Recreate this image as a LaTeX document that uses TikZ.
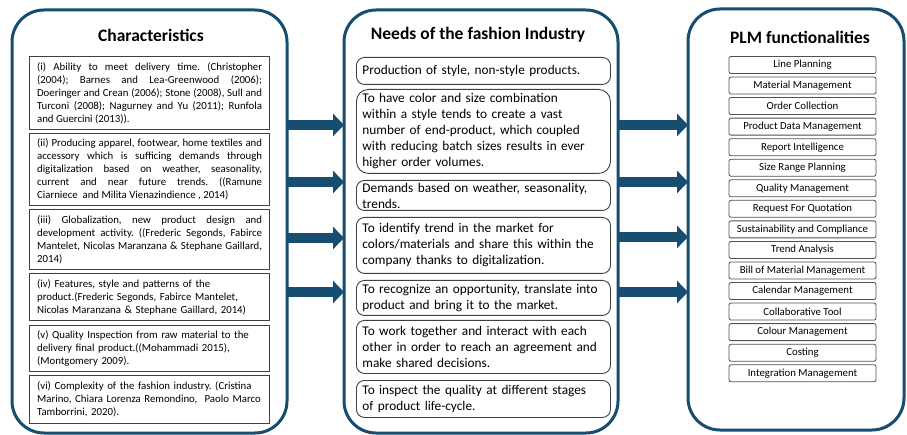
\documentclass[tikz,border=0pt]{standalone}
\usepackage{fontspec}
\setmainfont{Carlito}
\usetikzlibrary{arrows.meta}
\definecolor{pblue}{RGB}{22,77,112}
\definecolor{bgray}{RGB}{64,64,64}
\definecolor{rgray}{RGB}{80,80,80}
\frenchspacing
\begin{document}
\begin{tikzpicture}[x=1pt,y=-1pt,
  panel/.style={draw=pblue, line width=3pt, rounded corners=32pt, outer sep=0pt, inner sep=0pt},
  ptitle/.style={font=\bfseries\fontsize{17.5}{20}\selectfont, inner sep=0pt},
  lbox/.style={draw=bgray, line width=1.2pt, anchor=north west, text width=225pt, inner xsep=7.5pt, inner ysep=1pt, font=\frenchspacing\fontsize{10.8}{13}\selectfont},
  mbox/.style={draw=bgray, line width=0.9pt, rounded corners=8pt, anchor=north west, text width=242pt, inner xsep=6pt, inner ysep=1pt, align=left, font=\frenchspacing\fontsize{13.3}{16}\selectfont},
  rbox/.style={draw=rgray, line width=0.8pt, rounded corners=2pt, minimum width=147pt, minimum height=17pt, inner sep=0pt, font=\fontsize{10.8}{13}\selectfont},
  bigarrow/.style={draw=pblue, line width=10pt, -{Triangle[length=11pt,width=22pt]}}
]
\fill[white] (0,0) rectangle (907,435);
\useasboundingbox (0,0) rectangle (907,435);

% panels
\node[panel, minimum width=275pt, minimum height=423pt] (L) at (149.5,221.5) {};
\node[panel, minimum width=274pt, minimum height=423pt] (M) at (481,221.5) {};
\node[panel, minimum width=216pt, minimum height=421pt] (R) at (796,219.5) {};

% titles
\node[ptitle] (tL) at (151,35) {Characteristics};
\node[ptitle] (tM) at (478,35) {Needs of the fashion Industry};
\node[ptitle] (tR) at (800,37) {PLM functionalities};

% left boxes
\node[lbox, align=justify, minimum height=73pt] (l1) at (29,56) {(i) Ability to meet delivery time. (Christopher\linebreak (2004); Barnes and Lea-Greenwood (2006);\linebreak Doeringer and Crean (2006); Stone (2008), Sull and\linebreak Turconi (2008); Nagurney and Yu (2011); Runfola\linebreak and Guercini (2013)).};
\node[lbox, align=justify, minimum height=72pt] (l2) at (29,133) {(ii) Producing apparel, footwear, home textiles and\linebreak accessory which is sufficing demands through\linebreak digitalization based on weather, seasonality,\linebreak current and near future trends. ((Ramune\linebreak Ciarniece\ \ and Milita Vienazindience , 2014)};
\node[lbox, align=justify, minimum height=60pt] (l3) at (29,209) {(iii) Globalization, new product design and\linebreak development activity. ((Frederic Segonds, Fabirce\linebreak Mantelet, Nicolas Maranzana \& Stephane Gaillard,\linebreak 2014)};
\node[lbox, align=left, minimum height=47pt] (l4) at (29,273) {(iv) Features, style and patterns of the\\ product.(Frederic Segonds, Fabirce Mantelet,\\ Nicolas Maranzana \& Stephane Gaillard, 2014)};
\node[lbox, align=left, minimum height=46pt] (l5) at (29,325) {(v) Quality Inspection from raw material to the\\ delivery final product.((Mohammadi 2015),\\ (Montgomery 2009).};
\node[lbox, align=left, minimum height=48pt] (l6) at (29,375) {(vi) Complexity of the fashion industry. (Cristina\\ Marino, Chiara Lorenza Remondino,\ \ Paolo Marco\\ Tamborrini, 2020).};

% middle boxes
\node[mbox, minimum height=27pt, xshift=3pt] (m1) at (353,57) {Production of style, non-style products.};
\node[mbox, rounded corners=12pt, minimum height=84pt, xshift=3pt] (m2) at (353,89) {To have color and size combination\\ within a style tends to create a vast\\ number of end-product, which coupled\\ with reducing batch sizes results in ever\\ higher order volumes.};
\node[mbox, minimum height=30pt, xshift=3pt] (m3) at (353,180) {Demands based on weather, seasonality,\\ trends.};
\node[mbox, minimum height=56pt, xshift=3pt] (m4) at (353,217) {To identify trend in the market for\\ colors/materials and share this within the\\ company thanks to digitalization.};
\node[mbox, minimum height=35pt, xshift=3pt] (m5) at (353,280) {To recognize an opportunity, translate into\\ product and bring it to the market.};
\node[mbox, minimum height=53pt, xshift=3pt] (m6) at (353,320) {To work together and interact with each\\ other in order to reach an agreement and\\ make shared decisions.};
\node[mbox, minimum height=37pt, xshift=3pt] (m7) at (353,380) {To inspect the quality at different stages\\ of product life-cycle.};

% right boxes
\foreach \t [count=\i from 0] in {Line Planning, Material Management, Order Collection, Product Data Management, Report Intelligence, Size Range Planning, Quality Management, Request For Quotation, Sustainability and Compliance, Trend Analysis, Bill of Material Management, Calendar Management, Collaborative Tool, Colour Management, Costing, Integration Management}
  \node[rbox] (r\i) at (802.5, 65+20.55*\i) {\t};

% arrows
\foreach \y in {125,182,238,292}
  \draw[bigarrow] (L.east |- 0,\y) -- (M.west |- 0,\y);
\foreach \y in {125,182,237,292}
  \draw[bigarrow] (M.east |- 0,\y) -- (R.west |- 0,\y);
\end{tikzpicture}
\end{document}
